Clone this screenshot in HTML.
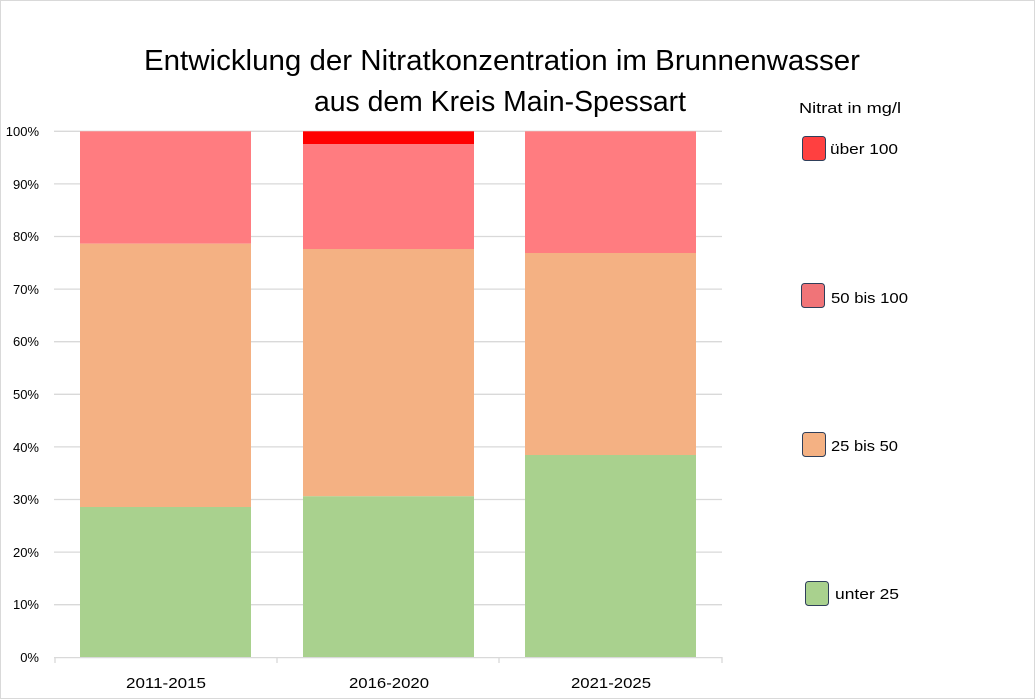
<!DOCTYPE html>
<html><head><meta charset="utf-8"><style>
html,body{margin:0;padding:0;background:#fff;}
svg{display:block;}
text{font-family:"Liberation Sans",sans-serif;fill:#000;}
</style></head><body>
<svg width="1035" height="699" viewBox="0 0 1035 699" xmlns="http://www.w3.org/2000/svg">
<rect x="0.5" y="0.5" width="1034" height="698" fill="#fff" stroke="#d9d9d9" stroke-width="1"/>
<!-- title -->
<text x="144" y="70" font-size="29" textLength="716" lengthAdjust="spacingAndGlyphs">Entwicklung der Nitratkonzentration im Brunnenwasser</text>
<text x="314" y="111" font-size="29" textLength="372" lengthAdjust="spacingAndGlyphs">aus dem Kreis Main-Spessart</text>
<!-- gridlines -->
<g stroke="#d9d9d9" stroke-width="1.3">
<line x1="54" y1="131.3" x2="722" y2="131.3"/>
<line x1="54" y1="183.9" x2="722" y2="183.9"/>
<line x1="54" y1="236.5" x2="722" y2="236.5"/>
<line x1="54" y1="289.1" x2="722" y2="289.1"/>
<line x1="54" y1="341.7" x2="722" y2="341.7"/>
<line x1="54" y1="394.3" x2="722" y2="394.3"/>
<line x1="54" y1="446.9" x2="722" y2="446.9"/>
<line x1="54" y1="499.5" x2="722" y2="499.5"/>
<line x1="54" y1="552.1" x2="722" y2="552.1"/>
<line x1="54" y1="604.7" x2="722" y2="604.7"/>
</g>
<!-- bars -->
<rect x="80" y="131.3" width="171" height="112.4" fill="#ff7c80"/>
<rect x="80" y="243.7" width="171" height="263.3" fill="#f4b183"/>
<rect x="80" y="507" width="171" height="150.3" fill="#a9d18e"/>

<rect x="303" y="131.3" width="171" height="12.7" fill="#ff0000"/>
<rect x="303" y="144" width="171" height="105" fill="#ff7c80"/>
<rect x="303" y="249" width="171" height="247.3" fill="#f4b183"/>
<rect x="303" y="496.3" width="171" height="161" fill="#a9d18e"/>

<rect x="525" y="131.3" width="171" height="121.7" fill="#ff7c80"/>
<rect x="525" y="253" width="171" height="202" fill="#f4b183"/>
<rect x="525" y="455" width="171" height="202.3" fill="#a9d18e"/>
<!-- axis -->
<g stroke="#d9d9d9" stroke-width="1.3">
<line x1="54" y1="657.6" x2="722" y2="657.6"/>
<line x1="55" y1="657" x2="55" y2="663"/>
<line x1="277" y1="657" x2="277" y2="663"/>
<line x1="499" y1="657" x2="499" y2="663"/>
<line x1="722" y1="657" x2="722" y2="663"/>
</g>
<!-- y labels -->
<g font-size="13" text-anchor="end">
<text x="39" y="136">100%</text>
<text x="39" y="189">90%</text>
<text x="39" y="241">80%</text>
<text x="39" y="294">70%</text>
<text x="39" y="346">60%</text>
<text x="39" y="399">50%</text>
<text x="39" y="452">40%</text>
<text x="39" y="504">30%</text>
<text x="39" y="557">20%</text>
<text x="39" y="609">10%</text>
<text x="39" y="662">0%</text>
</g>
<!-- x labels -->
<g font-size="15" text-anchor="middle">
<text x="166" y="688" textLength="80" lengthAdjust="spacingAndGlyphs">2011-2015</text>
<text x="389" y="688" textLength="80" lengthAdjust="spacingAndGlyphs">2016-2020</text>
<text x="611" y="688" textLength="80" lengthAdjust="spacingAndGlyphs">2021-2025</text>
</g>
<!-- legend -->
<text x="799" y="113" font-size="15" textLength="102" lengthAdjust="spacingAndGlyphs">Nitrat in mg/l</text>
<rect x="802.5" y="136.5" width="23" height="24" rx="3" fill="#ff4040" stroke="#2f3f5a" stroke-width="1"/>
<text x="830" y="154" font-size="15" textLength="68" lengthAdjust="spacingAndGlyphs">über 100</text>
<rect x="801.5" y="283.5" width="23" height="24" rx="3" fill="#f07478" stroke="#2f3f5a" stroke-width="1"/>
<text x="831" y="303" font-size="15" textLength="77" lengthAdjust="spacingAndGlyphs">50 bis 100</text>
<rect x="802.5" y="432.5" width="23" height="24" rx="3" fill="#f4b183" stroke="#2f3f5a" stroke-width="1"/>
<text x="831" y="451" font-size="15" textLength="67" lengthAdjust="spacingAndGlyphs">25 bis 50</text>
<rect x="805.5" y="581.5" width="23" height="24" rx="3" fill="#a9d18e" stroke="#2f3f5a" stroke-width="1"/>
<text x="835" y="599" font-size="15" textLength="64" lengthAdjust="spacingAndGlyphs">unter 25</text>
</svg>
</body></html>
